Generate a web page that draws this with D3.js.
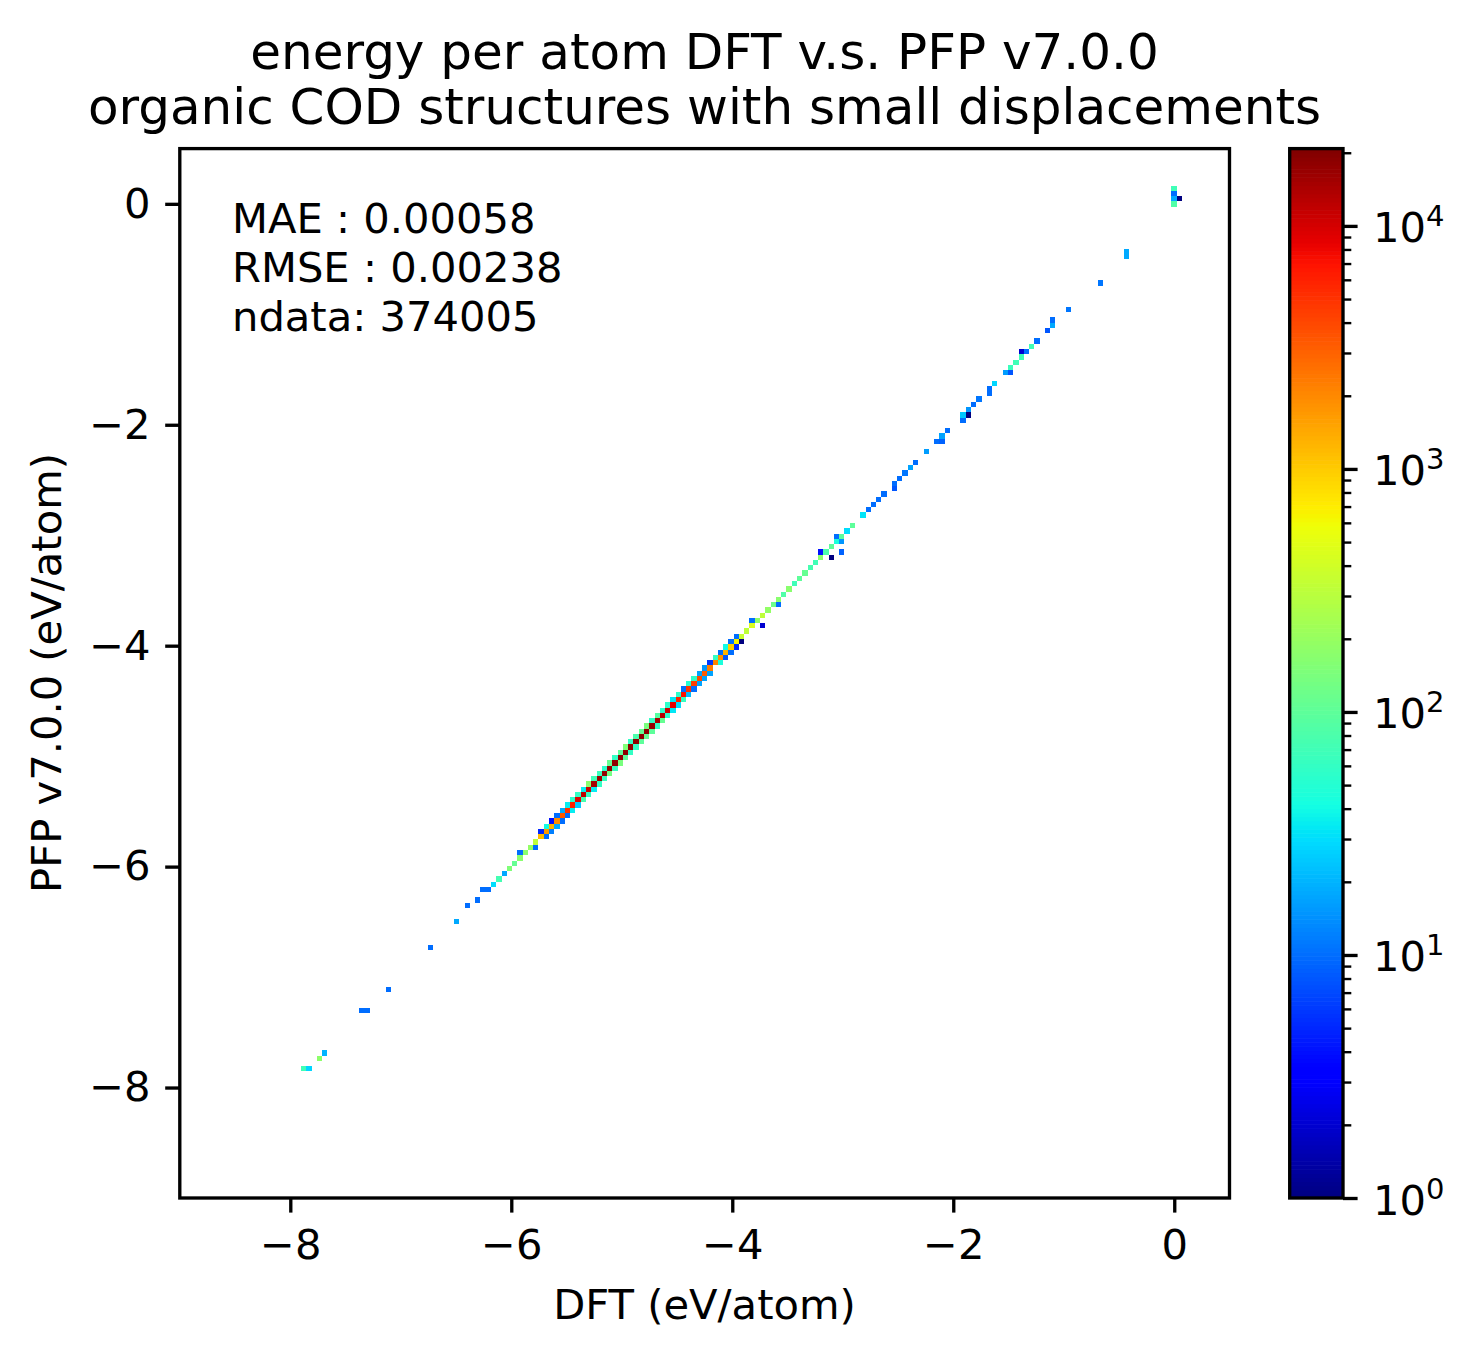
<!DOCTYPE html>
<html>
<head>
<meta charset="utf-8">
<script src="https://cdn.jsdelivr.net/npm/d3@7"></script>
<style>
body { margin: 0; background: #fff; }
text { font-family: "DejaVu Sans", sans-serif; fill: #000; }
</style>
</head>
<body>
<script>
var titleLines = ["energy per atom DFT v.s. PFP v7.0.0", "organic COD structures with small displacements"];
var statLines = ["MAE : 0.00058", "RMSE : 0.00238", "ndata: 374005"];
var axisTicks = [-8, -6, -4, -2, 0];
var barMajor = [1, 10, 100, 1000, 10000];
var barMinor = [2, 3, 4, 5, 6, 7, 8, 9, 20, 30, 40, 50, 60, 70, 80, 90, 200, 300, 400, 500, 600, 700, 800, 900,
	2000, 3000, 4000, 5000, 6000, 7000, 8000, 9000, 20000];
var axisMin = -9, axisMax = 0.5, binCount = 199;
var maxCount = 20800;

// cells on the diagonal: same bin on both axes
var diagBin = [24, 26, 27, 35, 39, 47, 52, 56, 58, 59,
	60, 61, 62, 63, 64, 65, 66, 67, 68, 69,
	70, 71, 72, 73, 74, 75, 76, 77, 78, 79,
	80, 81, 82, 83, 84, 85, 86, 87, 88, 89,
	90, 91, 92, 93, 94, 95, 96, 97, 98, 99,
	100, 101, 102, 103, 104, 105, 106, 107, 108, 109,
	110, 111, 112, 113, 114, 115, 116, 117, 118, 119,
	120, 121, 122, 123, 124, 125, 126, 127, 129, 130,
	131, 132, 133, 135, 136, 137, 138, 139, 141, 143,
	144, 145, 148, 149, 150, 151, 153, 154, 156, 157,
	158, 159, 160, 161, 162, 164, 165, 168, 179, 188,
	189];
var diagCount = [28, 178, 20, 10, 10, 10, 18, 10, 10, 30,
	74, 18, 150, 110, 170, 170, 190, 320, 1200, 1700,
	1300, 1950, 3350, 5000, 6000, 9000, 12000, 11000, 15000, 16000,
	17500, 17500, 18000, 18500, 18500, 18500, 18500, 18500, 18500, 17000,
	15000, 13000, 11000, 8500, 6000, 7000, 5000, 4500, 3800, 3300,
	2300, 2100, 1900, 1300, 1000, 650, 350, 320, 450, 180,
	320, 190, 120, 170, 85, 170, 70, 100, 110, 75,
	70, 170, 80, 100, 45, 95, 30, 100, 32, 10,
	10, 10, 10, 10, 10, 11, 17, 10, 16, 10,
	17, 10, 24, 15, 10, 11, 10, 28, 16, 65,
	70, 70, 10, 70, 10, 8, 18, 11, 18, 85,
	1];

// cells off the diagonal
var offDft = [23, 34, 54, 57, 64, 67, 69, 68, 70, 69,
	71, 70, 72, 71, 73, 72, 74, 73, 75, 74,
	76, 75, 77, 76, 78, 77, 79, 78, 80, 79,
	81, 80, 82, 81, 83, 82, 84, 83, 85, 84,
	86, 85, 87, 86, 88, 87, 89, 88, 90, 89,
	91, 90, 92, 91, 93, 92, 94, 93, 95, 94,
	96, 95, 97, 96, 98, 97, 99, 98, 100, 99,
	100, 102, 101, 103, 102, 104, 103, 105, 104, 106,
	105, 110, 108, 113, 123, 121, 125, 125, 124, 135,
	144, 148, 149, 153, 157, 159, 165, 174, 179, 188,
	188, 188];
var offPfp = [24, 35, 55, 58, 65, 66, 68, 69, 69, 70,
	70, 71, 71, 72, 72, 73, 73, 74, 74, 75,
	75, 76, 76, 77, 77, 78, 78, 79, 79, 80,
	80, 81, 81, 82, 82, 83, 83, 84, 84, 85,
	85, 86, 86, 87, 87, 88, 88, 89, 89, 90,
	90, 91, 91, 92, 92, 93, 93, 94, 94, 95,
	95, 96, 96, 97, 97, 98, 98, 99, 99, 100,
	101, 101, 102, 102, 103, 103, 104, 104, 105, 105,
	106, 108, 109, 112, 121, 122, 122, 124, 125, 134,
	143, 147, 148, 152, 156, 160, 166, 173, 178, 189,
	190, 191];
var offCount = [70, 10, 10, 10, 10, 10, 10, 5, 12, 40,
	18, 4, 10, 10, 10, 18, 35, 35, 25, 55,
	74, 60, 60, 35, 35, 170, 60, 70, 65, 65,
	130, 55, 65, 110, 140, 60, 100, 100, 60, 150,
	60, 60, 100, 80, 110, 110, 100, 140, 60, 60,
	110, 90, 55, 55, 33, 55, 30, 33, 60, 55,
	22, 10, 10, 50, 17, 55, 17, 17, 17, 15,
	6, 45, 60, 8, 10, 10, 40, 5, 10, 1,
	10, 2, 10, 10, 1, 4, 9, 15, 10, 8,
	9, 10, 1, 10, 8, 2, 10, 11, 18, 18,
	10, 70];

var cells = diagBin.map(function(b, i) { return { dft: b, pfp: b, count: diagCount[i] }; })
	.concat(offDft.map(function(b, i) { return { dft: b, pfp: offPfp[i], count: offCount[i] }; }));

var binEdge = d3.scaleLinear().domain([0, binCount]).range([axisMin, axisMax]);

var plotLeft = 179.8, plotRight = 1229.5, plotTop = 148.6, plotBottom = 1198;
var barLeft = 1289.7, barRight = 1343;
var labelSize = 41.67, tickLen = 14.6, lineWidth = 3.33;

var x = d3.scaleLinear().domain([axisMin, axisMax]).range([plotLeft, plotRight]);
var y = d3.scaleLinear().domain([axisMin, axisMax]).range([plotBottom, plotTop]);
var barScale = d3.scaleLog().domain([1, maxCount]).range([plotBottom, plotTop]);

// matplotlib jet
var jetR = d3.scaleLinear().domain([0, 0.35, 0.66, 0.89, 1]).range([0, 0, 1, 1, 0.5]);
var jetG = d3.scaleLinear().domain([0, 0.125, 0.375, 0.64, 0.91, 1]).range([0, 0, 1, 1, 0, 0]);
var jetB = d3.scaleLinear().domain([0, 0.11, 0.34, 0.65, 1]).range([0.5, 1, 1, 0, 0]);
function jet(t) {
	return d3.rgb(jetR(t) * 255, jetG(t) * 255, jetB(t) * 255).formatHex();
}
var colorFrac = d3.scaleLog().domain([1, maxCount]).range([0, 1]);

var svg = d3.select("body").append("svg")
	.attr("width", 1473)
	.attr("height", 1358)
	.style("display", "block");

// histogram cells
svg.append("g")
	.selectAll("rect")
	.data(cells)
	.enter()
	.append("rect")
	.attr("x", function(d) { return x(binEdge(d.dft)); })
	.attr("y", function(d) { return y(binEdge(d.pfp + 1)); })
	.attr("width", function(d) { return x(binEdge(d.dft + 1)) - x(binEdge(d.dft)); })
	.attr("height", function(d) { return y(binEdge(d.pfp)) - y(binEdge(d.pfp + 1)); })
	.attr("fill", function(d) { return jet(colorFrac(d.count)); })
	.attr("shape-rendering", "crispEdges");

// axes
function minusSign(d) { return String(d).replace("-", "\u2212"); }

var xAxis = svg.append("g")
	.attr("transform", "translate(0," + plotBottom + ")")
	.call(d3.axisBottom(x).tickValues(axisTicks).tickFormat(minusSign).tickSize(tickLen).tickPadding(17));
var yAxis = svg.append("g")
	.attr("transform", "translate(" + plotLeft + ",0)")
	.call(d3.axisLeft(y).tickValues(axisTicks).tickFormat(minusSign).tickSize(tickLen).tickPadding(14.6));

[xAxis, yAxis].forEach(function(g) {
	g.select(".domain").remove();
	g.selectAll("line").attr("stroke", "#000").attr("stroke-width", lineWidth);
	g.selectAll("text").attr("font-size", labelSize).attr("font-family", "DejaVu Sans");
});

svg.append("rect")
	.attr("x", plotLeft).attr("y", plotTop)
	.attr("width", plotRight - plotLeft).attr("height", plotBottom - plotTop)
	.attr("fill", "none").attr("stroke", "#000").attr("stroke-width", lineWidth);

// stats text
svg.append("g")
	.selectAll("text")
	.data(statLines)
	.enter()
	.append("text")
	.attr("x", 232)
	.attr("y", function(d, i) { return 233 + i * 49.2; })
	.attr("font-size", labelSize)
	.text(function(d) { return d; });

// titles
svg.append("g")
	.selectAll("text")
	.data(titleLines)
	.enter()
	.append("text")
	.attr("x", 704.5)
	.attr("y", function(d, i) { return 69 + i * 55; })
	.attr("text-anchor", "middle")
	.attr("font-size", 50)
	.text(function(d) { return d; });

svg.append("text")
	.attr("x", 704.5).attr("y", 1319)
	.attr("text-anchor", "middle")
	.attr("font-size", labelSize)
	.text("DFT (eV/atom)");

svg.append("text")
	.attr("transform", "translate(61,673) rotate(-90)")
	.attr("text-anchor", "middle")
	.attr("font-size", labelSize)
	.text("PFP v7.0.0 (eV/atom)");

// colorbar, 256 levels like the colormap
var levels = d3.range(256);
var levelEdge = d3.scaleLinear().domain([0, 256]).range([plotBottom, plotTop]);
svg.append("g")
	.selectAll("rect")
	.data(levels)
	.enter()
	.append("rect")
	.attr("x", barLeft)
	.attr("y", function(d) { return levelEdge(d + 1); })
	.attr("width", barRight - barLeft)
	.attr("height", function(d) { return levelEdge(d) - levelEdge(d + 1) + 0.6; })
	.attr("fill", function(d) { return jet((d + 0.5) / 256); });

var barMinorAxis = svg.append("g")
	.attr("transform", "translate(" + barRight + ",0)")
	.call(d3.axisRight(barScale).tickValues(barMinor).tickFormat("").tickSize(8.3));
barMinorAxis.select(".domain").remove();
barMinorAxis.selectAll("line").attr("stroke", "#000").attr("stroke-width", 2.4);

var barMajorAxis = svg.append("g")
	.attr("transform", "translate(" + barRight + ",0)")
	.call(d3.axisRight(barScale).tickValues(barMajor).tickFormat("").tickSize(tickLen));
barMajorAxis.select(".domain").remove();
barMajorAxis.selectAll("line").attr("stroke", "#000").attr("stroke-width", lineWidth);

var barLabel = barMajorAxis.selectAll("text")
	.attr("x", 30)
	.attr("y", 0)
	.attr("dy", 16)
	.attr("font-size", labelSize)
	.attr("font-family", "DejaVu Sans")
	.attr("text-anchor", "start");
barLabel.append("tspan").text("10");
barLabel.append("tspan")
	.attr("font-size", 29)
	.attr("dy", -16)
	.text(function(d) { return Math.round(Math.log10(d)); });

svg.append("rect")
	.attr("x", barLeft).attr("y", plotTop)
	.attr("width", barRight - barLeft).attr("height", plotBottom - plotTop)
	.attr("fill", "none").attr("stroke", "#000").attr("stroke-width", lineWidth);
</script>
</body>
</html>
